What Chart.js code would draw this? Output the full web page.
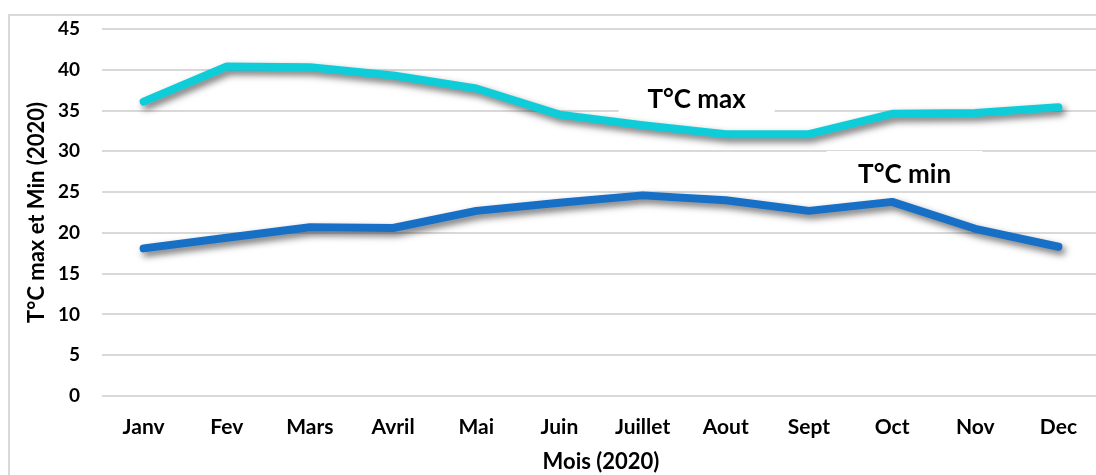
<html>
<head>
  <style type="text/css">
    body { margin: 0; overflow: hidden; background: #fff; }
    #frame {
      position: absolute; left: 8px; top: 14px; width: 1200px; height: 600px;
      border: 2px solid #d9d9d9;
    }
    #wrap { position: absolute; left: 0; top: 0; width: 1110px; height: 475px; }
  </style>
</head>
<body>
  <div id="frame"></div>
  <div id="wrap"><canvas id="chart"></canvas></div>
  <script src="https://cdn.jsdelivr.net/npm/chart.js@4"></script>
  <script>
    const months = ["Janv", "Fev", "Mars", "Avril", "Mai", "Juin", "Juillet", "Aout", "Sept", "Oct", "Nov", "Dec"];
    const tMax = [36.1, 40.4, 40.3, 39.3, 37.7, 34.5, 33.2, 32.1, 32.1, 34.6, 34.7, 35.4];
    const tMin = [18.1, 19.4, 20.7, 20.6, 22.7, 23.7, 24.6, 24.0, 22.7, 23.8, 20.5, 18.3];

    // line labels: [text, category, value]
    const seriesLabels = [
      ["T°C max", 6.65, 36.3],
      ["T°C min", 9.15, 27.1]
    ];

    const font = "Lato";

    const shadow = {
      id: "shadow",
      beforeDatasetDraw(chart) {
        const ctx = chart.ctx;
        ctx.save();
        ctx.shadowColor = "rgba(0,0,0,0.55)";
        ctx.shadowBlur = 7;
        ctx.shadowOffsetX = 3;
        ctx.shadowOffsetY = 4;
      },
      afterDatasetDraw(chart) {
        chart.ctx.restore();
      }
    };

    const lineLabels = {
      id: "lineLabels",
      beforeDatasetsDraw(chart) {
        const ctx = chart.ctx;
        const x = chart.scales.x, y = chart.scales.y;
        ctx.save();
        ctx.fillStyle = "#fff";
        for (const [t, c, v] of seriesLabels) {
          const px = x.getPixelForValue(c), py = y.getPixelForValue(v);
          ctx.fillRect(px - 78, py - 24, 156, 40);
        }
        ctx.restore();
      },
      afterDatasetsDraw(chart) {
        const ctx = chart.ctx;
        const x = chart.scales.x, y = chart.scales.y;
        ctx.save();
        ctx.font = "bold 26px " + font;
        ctx.fillStyle = "#000";
        ctx.textAlign = "center";
        ctx.textBaseline = "middle";
        for (const [t, c, v] of seriesLabels) {
          ctx.fillText(t, x.getPixelForValue(c), y.getPixelForValue(v));
        }
        ctx.restore();
      }
    };

    new Chart(document.getElementById("chart"), {
      type: "line",
      data: {
        labels: months,
        datasets: [
          { label: "T°C max", data: tMax, borderColor: "#0fcdd8", borderWidth: 8, pointRadius: 0, tension: 0, borderCapStyle: "round", borderJoinStyle: "round" },
          { label: "T°C min", data: tMin, borderColor: "#1870c6", borderWidth: 8, pointRadius: 0, tension: 0, borderCapStyle: "round", borderJoinStyle: "round" }
        ]
      },
      options: {
        responsive: true,
        maintainAspectRatio: false,
        animation: false,
        layout: { padding: { top: 29, right: 10, left: 21, bottom: 0 } },
        plugins: { legend: { display: false }, tooltip: { enabled: false } },
        scales: {
          x: {
            offset: true,
            grid: { display: false, drawTicks: false },
            border: { display: false },
            ticks: { color: "#000", font: { family: font, size: 21, weight: "bold" }, padding: 19, maxRotation: 0 },
            title: { display: true, text: "Mois (2020)", color: "#000", font: { family: font, size: 22, weight: "bold" }, padding: { top: 2, bottom: 0 } },
            afterFit(s) { s.height = 79; }
          },
          y: {
            min: 0, max: 45,
            ticks: { stepSize: 5, color: "#000", font: { family: font, size: 19, weight: "bold" }, padding: 22 },
            grid: { color: "#d9d9d9", lineWidth: 2, drawTicks: false },
            border: { display: false },
            title: { display: true, text: "T°C max et Min (2020)", color: "#000", font: { family: font, size: 22, weight: "bold" }, padding: { top: 3, bottom: 3 } },
            afterFit(s) { s.width = 81; s.paddingTop = 0; s.paddingBottom = 0; }
          }
        }
      },
      plugins: [shadow, lineLabels]
    });
  </script>
</body>
</html>
